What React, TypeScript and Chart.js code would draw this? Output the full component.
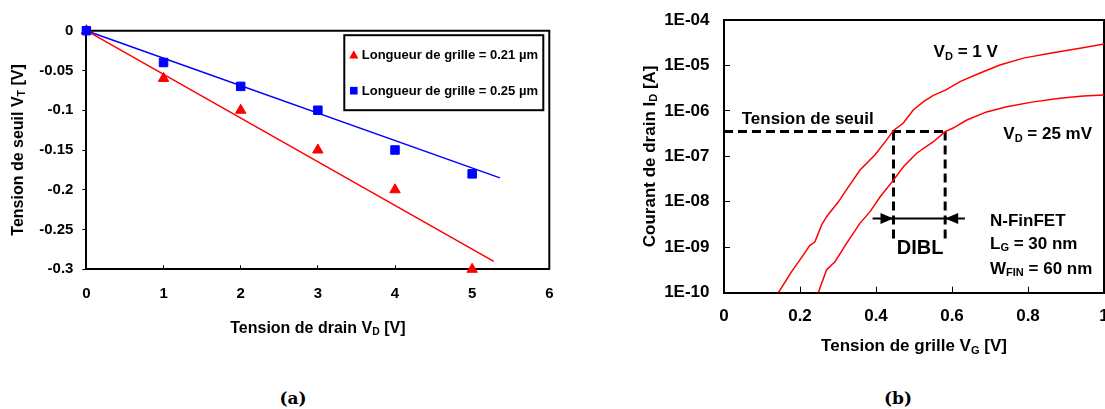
import React, { useEffect, useRef } from 'react';
import { Chart, registerables } from 'chart.js';

Chart.register(...registerables);

const FONT = "'Liberation Sans', Arial, Helvetica, sans-serif";

// ---------- (a) Threshold voltage vs drain voltage ----------
const drainVoltage = [0, 1, 2, 3, 4, 5];
const vtGate021 = [0, -0.06, -0.1, -0.15, -0.2, -0.3];
const vtGate025 = [0, -0.04, -0.07, -0.1, -0.15, -0.18];
const fit021X = [0, 5.28];
const fit021Y = [0, -0.29];
const fit025X = [0, 5.36];
const fit025Y = [0, -0.185];
const leftXTicks = [0, 1, 2, 3, 4, 5, 6];
const leftXTickLabels = ['0', '1', '2', '3', '4', '5', '6'];
const leftYTicks = [-0.3, -0.25, -0.2, -0.15, -0.1, -0.05, 0];
const leftYTickLabels = ['-0.3', '-0.25', '-0.2', '-0.15', '-0.1', '-0.05', '0'];
const leftLabels = ['Longueur de grille = 0.21 µm', 'Longueur de grille = 0.25 µm'];
const leftTitles = { x: 'Tension de drain V_{D} [V]', y: 'Tension de seuil V_{T} [V]' };

// ---------- (b) Id(Vg) of N-FinFET ----------
const vg1V = [0.143, 0.178, 0.209, 0.226, 0.239, 0.257, 0.27, 0.301, 0.327, 0.358, 0.397, 0.428, 0.446, 0.472, 0.498, 0.525, 0.551, 0.584, 0.621, 0.674, 0.726, 0.788, 0.858, 0.937, 1.0];
const id1V = [1.0e-10, 2.9e-10, 6.8e-10, 1.1e-9, 1.3e-9, 3.1e-9, 4.7e-9, 1.0e-8, 2.1e-8, 5.0e-8, 1.07e-7, 2.3e-7, 3.7e-7, 5.4e-7, 1.05e-6, 1.6e-6, 2.2e-6, 2.9e-6, 4.4e-6, 6.8e-6, 1.02e-5, 1.45e-5, 1.86e-5, 2.4e-5, 2.95e-5];
const vg25mV = [0.248, 0.27, 0.292, 0.323, 0.358, 0.384, 0.411, 0.446, 0.472, 0.507, 0.551, 0.582, 0.603, 0.639, 0.691, 0.744, 0.814, 0.884, 0.946, 1.0];
const id25mV = [1.0e-10, 3.2e-10, 4.8e-10, 1.23e-9, 3.4e-9, 6.0e-9, 1.29e-8, 3.0e-8, 5.9e-8, 1.17e-7, 2.1e-7, 3.5e-7, 4.2e-7, 6.3e-7, 9.5e-7, 1.23e-6, 1.58e-6, 1.9e-6, 2.14e-6, 2.24e-6];
const thresholdLineX = [0, 0.582];
const thresholdLineY = [3.5e-7, 3.5e-7];
const vt1VLineX = [0.446, 0.446];
const vt1VLineY = [3.5e-7, 1.45e-9];
const vt25mVLineX = [0.582, 0.582];
const vt25mVLineY = [3.5e-7, 1.45e-9];
const diblArrowX = [0.391, 0.634];
const diblArrowY = [4.3e-9, 4.3e-9];
const rightXTicks = [0, 0.2, 0.4, 0.6, 0.8, 1];
const rightXTickLabels = ['0', '0.2', '0.4', '0.6', '0.8', '1'];
const rightYTicks = [1e-10, 1e-9, 1e-8, 1e-7, 1e-6, 1e-5, 1e-4];
const rightYTickLabels = ['1E-10', '1E-09', '1E-08', '1E-07', '1E-06', '1E-05', '1E-04'];
const rightTitles = { x: 'Tension de grille V_{G} [V]', y: 'Courant de drain I_{D} [A]' };

type Ann = { text: string; x: number; y: number; size: number; align: 'left' | 'center' };
const rightAnnotations: Ann[] = [
  { text: 'V_{D} = 1 V', x: 0.5516, y: 2.1e-5, size: 17, align: 'left' },
  { text: 'Tension de seuil', x: 0.0466, y: 6.9e-7, size: 17, align: 'left' },
  { text: 'V_{D} = 25 mV', x: 0.735, y: 3.2e-7, size: 17, align: 'left' },
  { text: 'DIBL', x: 0.516, y: 1.03e-9, size: 20, align: 'center' },
  { text: 'N-FinFET', x: 0.7, y: 3.98e-9, size: 17, align: 'left' },
  { text: 'L_{G} = 30 nm', x: 0.7, y: 1.26e-9, size: 17, align: 'left' },
  { text: 'W_{FIN} = 60 nm', x: 0.7, y: 3.6e-10, size: 17, align: 'left' },
];

const pts = (xs: number[], ys: number[]) => xs.map((x, i) => ({ x, y: ys[i] }));

function parseRich(s: string) {
  const segs: { t: string; sub: boolean }[] = [];
  const re = /_\{([^}]*)\}/g;
  let last = 0;
  let m: RegExpExecArray | null;
  while ((m = re.exec(s))) {
    if (m.index > last) segs.push({ t: s.slice(last, m.index), sub: false });
    segs.push({ t: m[1], sub: true });
    last = re.lastIndex;
  }
  if (last < s.length) segs.push({ t: s.slice(last), sub: false });
  return segs;
}

function drawRich(ctx: CanvasRenderingContext2D, s: string, x: number, y: number, size: number, align: 'left' | 'center', rotate = 0) {
  const segs = parseRich(s);
  const fMain = `bold ${size}px ${FONT}`;
  const fSub = `bold ${size * 0.65}px ${FONT}`;
  ctx.save();
  ctx.translate(x, y);
  ctx.rotate(rotate);
  ctx.textAlign = 'left';
  ctx.textBaseline = 'alphabetic';
  ctx.fillStyle = '#000';
  let w = 0;
  for (const sg of segs) {
    ctx.font = sg.sub ? fSub : fMain;
    w += ctx.measureText(sg.t).width;
  }
  let cx = align === 'center' ? -w / 2 : 0;
  const base = size * 0.358;
  for (const sg of segs) {
    ctx.font = sg.sub ? fSub : fMain;
    ctx.fillText(sg.t, cx, base + (sg.sub ? size * 0.16 : 0));
    cx += ctx.measureText(sg.t).width;
  }
  ctx.restore();
}

// fix the axis box size and drop the label overflow paddings so the plot area is exact
const fixWidth = (w: number) => (s: any) => {
  s.width = w;
  s.paddingLeft = 0; s.paddingRight = 0; s.paddingTop = 0; s.paddingBottom = 0;
};
const fixHeight = (h: number) => (s: any) => {
  s.height = h;
  s.paddingLeft = 0; s.paddingRight = 0; s.paddingTop = 0; s.paddingBottom = 0;
};

const framePlugin = {
  id: 'frame',
  beforeDatasetsDraw(chart: any) {
    const { ctx, chartArea: a } = chart;
    ctx.save();
    ctx.strokeStyle = '#000';
    ctx.lineWidth = 2;
    ctx.beginPath();
    ctx.moveTo(a.left, a.top);
    ctx.lineTo(a.right, a.top);
    ctx.lineTo(a.right, a.bottom);
    ctx.stroke();
    ctx.restore();
  },
};

function titlesPlugin(titles: { x: string; y: string }, size: number, xOff: number, yX: number) {
  return {
    id: 'axisTitles',
    afterDraw(chart: any) {
      const { ctx, chartArea: a } = chart;
      drawRich(ctx, titles.x, (a.left + a.right) / 2, a.bottom + xOff, size, 'center');
      drawRich(ctx, titles.y, yX, (a.top + a.bottom) / 2, size, 'center', -Math.PI / 2);
    },
  };
}

const leftLegendPlugin = {
  id: 'boxLegend',
  afterDraw(chart: any) {
    const { ctx, chartArea: a } = chart;
    const left = a.right - 205;
    const top = a.top + 4.5;
    const w = 199;
    const h = 75;
    ctx.save();
    ctx.fillStyle = '#fff';
    ctx.fillRect(left, top, w, h);
    ctx.strokeStyle = '#000';
    ctx.lineWidth = 2;
    ctx.strokeRect(left, top, w, h);
    const items = chart.data.datasets.filter((d: any) => d.inLegend).sort((p: any, q: any) => p.legendRank - q.legendRank);
    items.forEach((d: any, i: number) => {
      const my = top + 19.5 + i * 36;
      const mx = left + 9.5;
      ctx.fillStyle = d.pointBackgroundColor;
      ctx.beginPath();
      if (d.pointStyle === 'triangle') {
        ctx.moveTo(mx, my - 4.5);
        ctx.lineTo(mx + 4.6, my + 3.8);
        ctx.lineTo(mx - 4.6, my + 3.8);
        ctx.closePath();
      } else {
        ctx.rect(mx - 3.8, my - 3.8, 7.6, 7.6);
      }
      ctx.fill();
      ctx.fillStyle = '#000';
      ctx.font = `bold 13px ${FONT}`;
      ctx.textAlign = 'left';
      ctx.textBaseline = 'middle';
      ctx.fillText(d.label, left + 17.5, my + 0.5);
    });
    ctx.restore();
  },
};

const rightAnnPlugin = {
  id: 'annotations',
  afterDatasetsDraw(chart: any) {
    const { ctx } = chart;
    const xs = chart.scales.x;
    const ys = chart.scales.y;
    const yA = ys.getPixelForValue(diblArrowY[0]);
    const tips = [
      { x: xs.getPixelForValue(vt1VLineX[0]), dir: 1 },
      { x: xs.getPixelForValue(vt25mVLineX[0]), dir: -1 },
    ];
    ctx.save();
    ctx.fillStyle = '#000';
    for (const t of tips) {
      ctx.beginPath();
      ctx.moveTo(t.x, yA);
      ctx.lineTo(t.x - t.dir * 13, yA - 5.5);
      ctx.lineTo(t.x - t.dir * 13, yA + 5.5);
      ctx.closePath();
      ctx.fill();
    }
    ctx.restore();
    for (const an of rightAnnotations) {
      drawRich(ctx, an.text, xs.getPixelForValue(an.x), ys.getPixelForValue(an.y), an.size, an.align);
    }
  },
};

const tickFont = (size: number) => ({ family: FONT, size, weight: 'bold' as const });

function LeftChart() {
  const ref = useRef<HTMLCanvasElement>(null);
  useEffect(() => {
    if (!ref.current) return;
    const chart = new Chart(ref.current, {
      type: 'line',
      data: {
        datasets: [
          {
            label: leftLabels[0], data: pts(drainVoltage, vtGate021), showLine: false,
            pointStyle: 'triangle', pointRadius: 6, pointBorderWidth: 1,
            pointBackgroundColor: '#ff0000', pointBorderColor: '#ff0000', borderColor: '#ff0000',
            clip: false, order: 1, inLegend: true, legendRank: 0,
          } as any,
          {
            label: leftLabels[1], data: pts(drainVoltage, vtGate025), showLine: false,
            pointStyle: 'rect', pointRadius: 6, pointBorderWidth: 1,
            pointBackgroundColor: '#0000ff', pointBorderColor: '#0000ff', borderColor: '#0000ff',
            clip: false, order: 0, inLegend: true, legendRank: 1,
          } as any,
          {
            label: 'fit 0.21', data: pts(fit021X, fit021Y), borderColor: '#ff0000', borderWidth: 1.5,
            pointRadius: 0, order: 2,
          },
          {
            label: 'fit 0.25', data: pts(fit025X, fit025Y), borderColor: '#0000ff', borderWidth: 1.5,
            pointRadius: 0, order: 2,
          },
        ],
      },
      options: {
        animation: false,
        responsive: false,
        events: [],
        layout: { padding: { left: 0, top: 30.7, right: 10.7, bottom: 30.7 } },
        plugins: { legend: { display: false }, tooltip: { enabled: false }, title: { display: false } },
        scales: {
          x: {
            type: 'linear', min: 0, max: 6,
            afterBuildTicks: (s: any) => { s.ticks = leftXTicks.map((v) => ({ value: v })); },
            afterFit: fixHeight(60),
            ticks: { callback: (_v: any, i: number) => leftXTickLabels[i], font: tickFont(15), color: '#000', padding: 20, maxRotation: 0, autoSkip: false },
            grid: { display: true, drawOnChartArea: false, drawTicks: true, tickLength: -4, color: '#000', lineWidth: 1 },
            border: { display: true, color: '#000', width: 2 },
          },
          y: {
            type: 'linear', min: -0.3, max: 0,
            afterBuildTicks: (s: any) => { s.ticks = leftYTicks.map((v) => ({ value: v })); },
            afterFit: fixWidth(86.4),
            ticks: { callback: (_v: any, i: number) => leftYTickLabels[i], font: tickFont(15), color: '#000', padding: 9, autoSkip: false },
            grid: { display: true, drawOnChartArea: false, drawTicks: true, tickLength: 4, color: '#000', lineWidth: 1 },
            border: { display: true, color: '#000', width: 2 },
          },
        },
      } as any,
      plugins: [framePlugin, titlesPlugin(leftTitles, 16, 57.7, 17), leftLegendPlugin],
    });
    return () => chart.destroy();
  }, []);
  return <canvas ref={ref} width={560} height={360} style={{ position: 'absolute', left: 0, top: 0 }} />;
}

function RightChart() {
  const ref = useRef<HTMLCanvasElement>(null);
  useEffect(() => {
    if (!ref.current) return;
    const dash = { borderColor: '#000', borderWidth: 3, borderDash: [9, 5], pointRadius: 0, borderCapStyle: 'butt' as const };
    const chart = new Chart(ref.current, {
      type: 'line',
      data: {
        datasets: [
          { label: 'V_D = 1 V', data: pts(vg1V, id1V), borderColor: '#ff0000', borderWidth: 1.5, pointRadius: 0 },
          { label: 'V_D = 25 mV', data: pts(vg25mV, id25mV), borderColor: '#ff0000', borderWidth: 1.5, pointRadius: 0 },
          { label: 'Tension de seuil', data: pts(thresholdLineX, thresholdLineY), ...dash },
          { label: 'VT (VD = 1 V)', data: pts(vt1VLineX, vt1VLineY), ...dash },
          { label: 'VT (VD = 25 mV)', data: pts(vt25mVLineX, vt25mVLineY), ...dash },
          { label: 'DIBL', data: pts(diblArrowX, diblArrowY), borderColor: '#000', borderWidth: 2, pointRadius: 0 },
        ],
      },
      options: {
        animation: false,
        responsive: false,
        events: [],
        layout: { padding: { left: 0, top: 20, right: 16, bottom: 7.3 } },
        plugins: { legend: { display: false }, tooltip: { enabled: false }, title: { display: false } },
        scales: {
          x: {
            type: 'linear', min: 0, max: 1,
            afterBuildTicks: (s: any) => { s.ticks = rightXTicks.map((v) => ({ value: v })); },
            afterFit: fixHeight(60),
            ticks: { callback: (_v: any, i: number) => rightXTickLabels[i], font: tickFont(17), color: '#000', padding: 19.8, maxRotation: 0, autoSkip: false },
            grid: { display: true, drawOnChartArea: false, drawTicks: true, tickLength: -6, color: '#000', lineWidth: 1 },
            border: { display: true, color: '#000', width: 2 },
          },
          y: {
            type: 'logarithmic', min: 1e-10, max: 1e-4,
            afterBuildTicks: (s: any) => { s.ticks = rightYTicks.map((v) => ({ value: v })); },
            afterFit: fixWidth(164),
            ticks: { callback: (_v: any, i: number) => rightYTickLabels[i], font: tickFont(17), color: '#000', padding: 20.5, autoSkip: false },
            grid: { display: true, drawOnChartArea: false, drawTicks: true, tickLength: -6, color: '#000', lineWidth: 1 },
            border: { display: true, color: '#000', width: 2 },
          },
        },
      } as any,
      plugins: [framePlugin, titlesPlugin(rightTitles, 17, 52.3, 88.6), rightAnnPlugin],
    });
    return () => chart.destroy();
  }, []);
  return <canvas ref={ref} width={560} height={360} style={{ position: 'absolute', left: 560, top: 0 }} />;
}

const captionStyle: React.CSSProperties = {
  position: 'absolute',
  top: 398,
  transform: 'translate(-50%, -50%)',
  fontFamily: "'DejaVu Serif', 'Liberation Serif', serif",
  fontWeight: 'bold',
  fontSize: 17,
  color: '#000',
  lineHeight: 1,
};

export default function App() {
  return (
    <div style={{ position: 'fixed', left: 0, top: 0, width: 1105, height: 409, overflow: 'hidden', background: '#fff' }}>
      <LeftChart />
      <RightChart />
      <div style={{ ...captionStyle, left: 293 }}>(a)</div>
      <div style={{ ...captionStyle, left: 898 }}>(b)</div>
    </div>
  );
}
